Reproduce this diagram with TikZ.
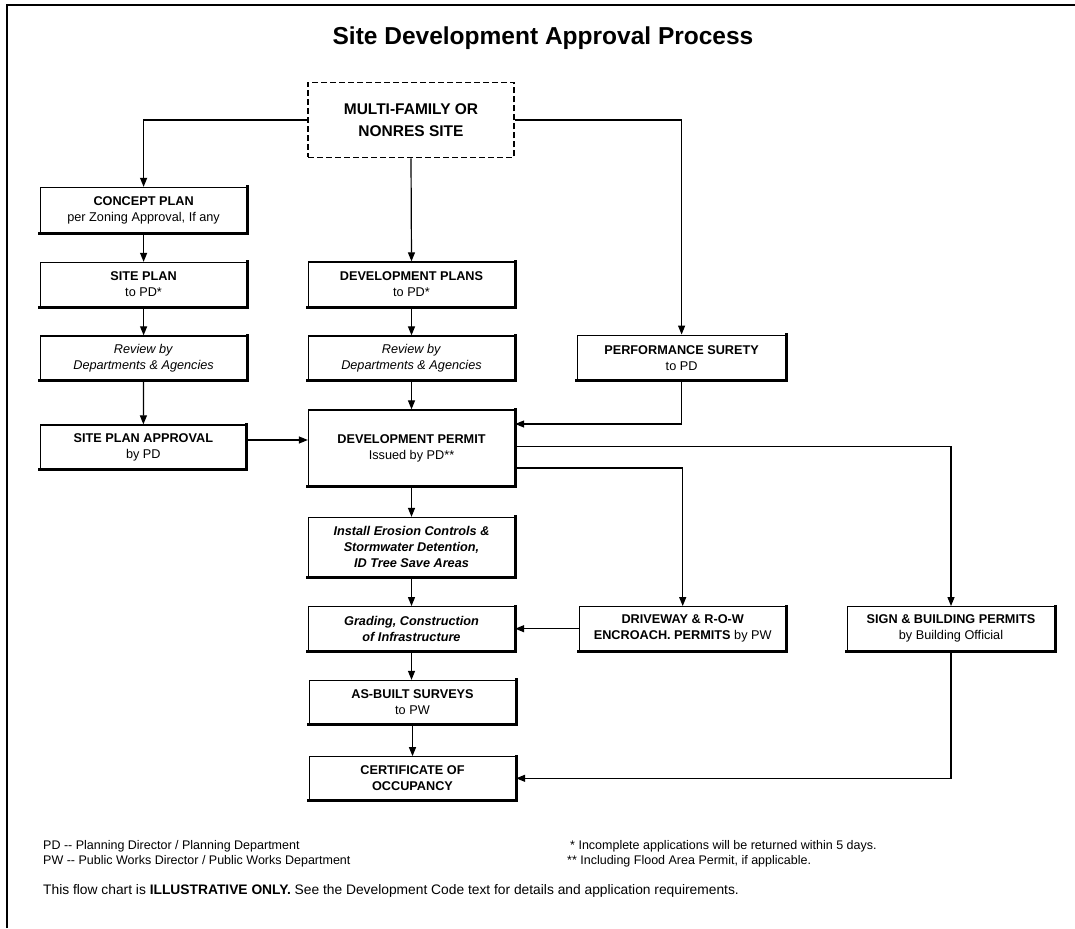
\documentclass[tikz,border=0pt]{standalone}
\usepackage{fontspec}
\setmainfont{Liberation Sans}
\usetikzlibrary{arrows.meta}
\begin{document}
\begin{tikzpicture}[x=1pt,y=-1pt,
  box/.style={draw, line width=1.3pt, minimum width=206pt, minimum height=44pt, inner sep=2pt, align=center, font=\fontsize{12.7}{16}\selectfont},
  startbox/.style={draw, dashed, dash pattern=on 6pt off 3pt, line width=1.7pt, minimum width=206pt, minimum height=75pt, align=center, font=\fontsize{15.5}{21.4}\selectfont\bfseries},
  shadowline/.style={line width=3pt, line cap=rect},
  conn/.style={line width=1.2pt},
  arr/.style={line width=1.2pt, -{Triangle[length=9pt,width=7pt]}},
  note/.style={anchor=west, inner sep=0pt, font=\fontsize{12.5}{14}\selectfont}]
\useasboundingbox (0,0) rectangle (1075,928);
% frame
\draw[line width=2pt] (7,928) -- (7,5) -- (1075,5);
% title
\node[font=\fontsize{24.5}{28}\selectfont\bfseries] (title) at (543,38) {Site Development Approval Process};
% boxes
\node[startbox] (mf) at (411,120) {MULTI-FAMILY OR\\NONRES SITE};
\node[box, minimum height=45pt] (cp) at (143.6,210) {\textbf{CONCEPT PLAN}\\per Zoning Approval, If any};
\node[box] (sp) at (143.6,284.5) {\textbf{SITE PLAN}\\to PD*};
\node[box] (rl) at (143.6,358) {\textit{Review by}\\\textit{Departments \& Agencies}};
\node[box] (spa) at (143.3,447) {\textbf{SITE PLAN APPROVAL}\\by PD};
\node[box, minimum height=45pt] (dpl) at (411.5,284.5) {\textbf{DEVELOPMENT PLANS}\\to PD*};
\node[box] (rm) at (411.5,358) {\textit{Review by}\\\textit{Departments \& Agencies}};
\node[box, minimum height=76pt] (dp) at (411.5,448) {\textbf{DEVELOPMENT PERMIT}\\Issued by PD**};
\node[box, minimum width=208pt, minimum height=45pt] (ps) at (681.6,357.7) {\textbf{PERFORMANCE SURETY}\\to PD};
\node[box, minimum height=59pt, font=\fontsize{12.7}{15.7}\selectfont\bfseries\itshape] (ie) at (411.5,547) {Install Erosion Controls \&\\Stormwater Detention,\\ID Tree Save Areas};
\node[box, font=\fontsize{12.7}{16}\selectfont\bfseries\itshape] (gr) at (411.5,628.7) {Grading, Construction\\of Infrastructure};
\node[box, minimum width=207pt] (dw) at (682.7,628.7) {\textbf{DRIVEWAY \& R-O-W}\\\textbf{ENCROACH. PERMITS} by PW};
\node[box, minimum width=207pt] (sb) at (951,628.7) {\textbf{SIGN \& BUILDING PERMITS}\\by Building Official};
\node[box, minimum height=43pt] (ab) at (412.5,702) {\textbf{AS-BUILT SURVEYS}\\to PW};
\node[box, minimum height=43pt, font=\fontsize{12.7}{16}\selectfont\bfseries] (co) at (412.5,778.3) {CERTIFICATE OF\\OCCUPANCY};
% shadows (thicker bottom and right edges)
\foreach \n in {cp,sp,rl,spa,dpl,rm,dp,ps,ie,gr,dw,sb,ab,co}
  \draw[shadowline] (\n.north east) -- (\n.south east) -- (\n.south west);
% connectors
\draw[arr] (mf.west) -| (cp.north);
\draw[arr] (mf.east) -| (ps.north);
\draw[arr] (mf.south) -- (dpl.north);
\draw[arr] (cp) -- (sp);
\draw[arr] (sp) -- (rl);
\draw[arr] (rl) -- (spa);
\draw[arr] (dpl) -- (rm);
\draw[arr] (rm) -- (dp);
\draw[arr] ([yshift=7pt]spa.east) -- ([yshift=7pt]spa.east -| dp.west);
\draw[arr] (ps.south) |- ([yshift=24pt]dp.east);
\draw[arr] ([yshift=1.5pt]dp.east) -| (sb.north);
\draw[arr] ([yshift=-20pt]dp.east) -| (dw.north);
\draw[arr] (dp) -- (ie);
\draw[arr] (ie) -- (gr);
\draw[arr] (dw) -- (gr);
\draw[arr] (gr.south) -- (ab.north -| gr.south);
\draw[arr] (ab) -- (co);
\draw[arr] (sb.south) |- (co.east);
% notes
\node[note] (n1) at (43,846) {PD -{}- Planning Director / Planning Department};
\node[note] (n2) at (43,861) {PW -{}- Public Works Director / Public Works Department};
\node[note] (n3) at (570,846) {* Incomplete applications will be returned within 5 days.};
\node[note] (n4) at (567,861) {** Including Flood Area Permit, if applicable.};
\node[note, font=\fontsize{13.8}{16}\selectfont] (n5) at (43,891) {This flow chart is \textbf{ILLUSTRATIVE ONLY.} See the Development Code text for details and application requirements.};
\end{tikzpicture}
\end{document}
